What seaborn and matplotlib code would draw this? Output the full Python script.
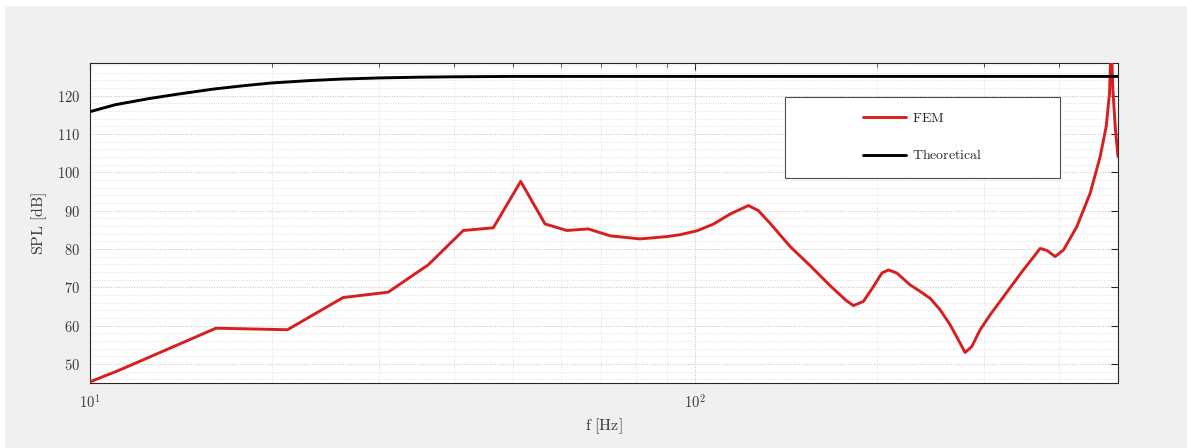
import numpy as np
import pandas as pd
import matplotlib
matplotlib.use("Agg")
import matplotlib.pyplot as plt
import matplotlib.ticker as mticker
from matplotlib.patches import Rectangle
import seaborn as sns

# FEM result (frequency in Hz, SPL in dB)
fem_freq = [10, 11.2, 16.15, 21.2, 26.2, 31.1, 36.2, 41.4, 46.4, 51.5, 56.5, 61.4,
            66.6, 72.4, 81.1, 89.8, 94.45, 100.65, 107.2, 114.3, 122.5, 127.2, 133.0,
            143.6, 155.0, 167.2, 177.5, 182.7, 189.8, 197.2, 203.6, 208.8,
            215.5, 226.7, 235.5, 244.6, 254.1, 263.9, 274.2, 279.4, 286.6, 295.9,
            307.4, 319.2, 344.5, 371.8, 381.4, 393.6, 406.3, 427.5, 449.7, 467.2,
            478.0, 484.1, 487.2, 490.4, 494.7, 500.0]
fem_spl = [45.3, 48.4, 59.3, 58.9, 67.3, 68.7, 75.8, 84.8, 85.5, 97.6, 86.5, 84.8,
           85.2, 83.4, 82.6, 83.2, 83.7, 84.7, 86.45, 89.1, 91.3, 90.0, 86.7,
           80.6, 75.6, 70.4, 66.6, 65.2, 66.3, 70.2, 73.7, 74.5,
           73.7, 70.6, 68.9, 67.1, 64.1, 60.2, 55.4, 52.95, 54.5, 58.9,
           62.8, 66.3, 73.4, 80.1, 79.6, 78.0, 79.7, 85.8, 94.5, 104.1,
           111.9, 120.6, 134.0, 121.5, 111.9, 104.1]

# Theoretical response
theo_freq = [10, 11, 12.5, 14, 16, 18, 20, 23, 26, 30, 35, 40, 50, 70, 100, 200, 500]
theo_spl = [115.8, 117.6, 119.2, 120.4, 121.7, 122.6, 123.3, 123.9, 124.3, 124.6,
            124.8, 124.9, 125.0, 125.0, 125.0, 125.0, 125.0]

series_names = ["FEM", "Theoretical"]
series_colors = {"FEM": "#d81e1e", "Theoretical": "#000000"}

df = pd.concat([
    pd.DataFrame({"f": fem_freq, "SPL": fem_spl, "series": "FEM"}),
    pd.DataFrame({"f": theo_freq, "SPL": theo_spl, "series": "Theoretical"}),
], ignore_index=True)

sns.set_theme(style="white")
plt.rcParams["mathtext.fontset"] = "cm"
plt.rcParams["font.family"] = ["DejaVu Serif"]

fig = plt.figure(figsize=(11.87, 4.48), dpi=100, facecolor="white")
fig.patches.append(Rectangle((5 / 1187, 0), 1 - 5 / 1187, 1 - 6 / 448,
                             transform=fig.transFigure, facecolor="#f0f0f0",
                             edgecolor="none", zorder=-10))
ax = fig.add_axes([90 / 1187, 1 - 383 / 448, 1028 / 1187, 320 / 448])
ax.set_facecolor("white")

sns.lineplot(data=df, x="f", y="SPL", hue="series", palette=series_colors,
             hue_order=series_names, sort=False, estimator=None,
             linewidth=2.1, legend=False, ax=ax, zorder=3)
for ln in ax.get_lines():
    ln.set_solid_joinstyle("round")

ax.set_xscale("log")
ax.set_xlim(10, 500)
ax.set_ylim(45, 128.5)

# Ticks
ax.xaxis.set_major_locator(mticker.LogLocator(base=10, numticks=10))
ax.xaxis.set_minor_locator(mticker.LogLocator(base=10, subs=np.arange(2, 10), numticks=20))
ax.xaxis.set_major_formatter(mticker.FuncFormatter(
    lambda v, p: rf"$10^{{{int(round(np.log10(v)))}}}$"))
ax.xaxis.set_minor_formatter(mticker.NullFormatter())
ax.yaxis.set_major_locator(mticker.MultipleLocator(10))
ax.yaxis.set_minor_locator(mticker.MultipleLocator(2))
ax.yaxis.set_major_formatter(mticker.FuncFormatter(lambda v, p: rf"$\mathrm{{{int(v)}}}$"))

ax.tick_params(which="both", direction="in", top=True, right=True,
               color="#262626", labelcolor="#3a3a3a", labelsize=10.5)
ax.tick_params(which="major", length=5, width=0.8, pad=7)
ax.tick_params(which="minor", length=3, width=0.6)
ax.tick_params(axis="y", which="minor", length=0)

# Grid
ax.grid(which="major", linestyle=":", color="#bdbdbd", linewidth=0.7, zorder=0)
ax.grid(which="minor", linestyle=":", color="#d8d8d8", linewidth=0.6, zorder=0)
ax.set_axisbelow(True)

for sp in ax.spines.values():
    sp.set_color("#262626")
    sp.set_linewidth(0.8)

ax.set_xlabel(r"$\mathrm{f\ [Hz]}$", fontsize=11.5, color="#3a3a3a", labelpad=4)
ax.set_ylabel(r"$\mathrm{SPL\ [dB]}$", fontsize=11.5, color="#3a3a3a", labelpad=6)

# Legend box and entries
ax.add_patch(Rectangle((0.676, 0.6406), 0.2676, 0.2534, transform=ax.transAxes,
                       facecolor="white", edgecolor="#4d4d4d", linewidth=0.8, zorder=5))
handles = [plt.Line2D([], [], color=series_colors[n], linewidth=2.1) for n in series_names]
labels = [rf"$\mathrm{{{n}}}$" for n in series_names]
leg = ax.legend(handles, labels, loc="center", bbox_to_anchor=(0.810, 0.770),
                frameon=False, fontsize=10, handlelength=3.1, handletextpad=0.4,
                labelspacing=1.7)
leg.set_zorder(6)
for t in leg.get_texts():
    t.set_color("#262626")

fig.savefig("out.png", dpi=100, facecolor=fig.get_facecolor())
